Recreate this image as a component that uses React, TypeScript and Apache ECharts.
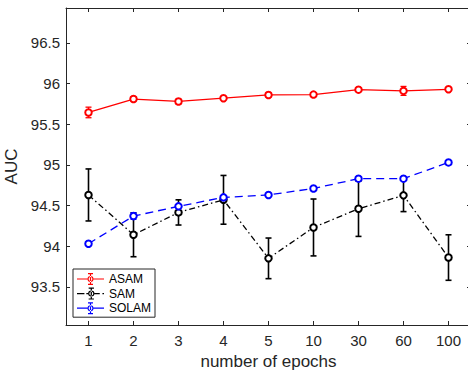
import React, { useEffect, useRef } from "react";
import * as echarts from "echarts";

const categories = ["1", "2", "3", "4", "5", "10", "30", "60", "100"];
const asam = [95.645, 95.81, 95.78, 95.82, 95.86, 95.865, 95.925, 95.91, 95.93];
const asamErr = [0.065, 0.03, 0.03, 0.015, 0.03, 0.02, 0.015, 0.055, 0.015];
const sam = [94.63, 94.14, 94.415, 94.57, 93.85, 94.23, 94.46, 94.625, 93.86];
const samErr = [0.32, 0.27, 0.155, 0.3, 0.25, 0.35, 0.34, 0.2, 0.28];
const solam = [94.03, 94.37, 94.49, 94.6, 94.63, 94.71, 94.83, 94.83, 95.03];
const solamErr = [0.01, 0.04, 0.02, 0.02, 0.01, 0.01, 0.02, 0.02, 0.01];
const yTicks = [93.5, 94, 94.5, 95, 95.5, 96, 96.5];

const FONT = "'Liberation Sans', Arial, Helvetica, sans-serif";
const AX = "#262626";

// legend glyphs (27 x 12 box): line pieces + ring marker + error bar
function rect(x0: number, x1: number, y0: number, y1: number) {
  return `M${x0} ${y0}L${x1} ${y0}L${x1} ${y1}L${x0} ${y1}Z`;
}
const RING =
  "M16.5 6A3 3 0 1 0 10.5 6A3 3 0 1 0 16.5 6Z" +
  "M15.4 6A1.9 1.9 0 1 1 11.6 6A1.9 1.9 0 1 1 15.4 6Z";
const BAR = rect(12.9, 14.1, 0, 12) + rect(11, 16, 0, 1.2) + rect(11, 16, 10.8, 12);
function glyph(segs: number[][]) {
  return "path://" + segs.map(([a, b]) => rect(a, b, 5.4, 6.6)).join("") + RING + BAR;
}
const ICON_ASAM = glyph([[0, 10.5], [16.5, 27]]);
const ICON_SAM = glyph([[0, 7], [8.8, 10.5], [16.5, 21.5], [24, 25.5]]);
const ICON_SOLAM = glyph([[0, 10.5], [16.5, 27]]);

function errRender(color: string, width: number, cap: number) {
  return (params: any, api: any) => {
    const x = api.value(0);
    const lo = api.coord([x, api.value(1)]);
    const hi = api.coord([x, api.value(2)]);
    const cx = lo[0];
    const st = { stroke: color, lineWidth: width };
    return {
      type: "group",
      children: [
        { type: "line", shape: { x1: cx, y1: lo[1], x2: cx, y2: hi[1] }, style: st },
        { type: "line", shape: { x1: cx - cap, y1: lo[1], x2: cx + cap, y2: lo[1] }, style: st },
        { type: "line", shape: { x1: cx - cap, y1: hi[1], x2: cx + cap, y2: hi[1] }, style: st },
      ],
    };
  };
}

function errData(v: number[], e: number[]) {
  return v.map((val, i) => [i, val - e[i], val + e[i]]);
}

export default function App() {
  const ref = useRef<HTMLDivElement>(null);
  useEffect(() => {
    if (!ref.current) return;
    const chart = echarts.init(ref.current, null, { renderer: "svg" });
    const lineSeries = (name: string, data: number[], color: string, type: any) => ({
      name,
      type: "line",
      data,
      symbol: "emptyCircle",
      symbolSize: 6.5,
      itemStyle: { color, borderColor: color, borderWidth: 1.3 },
      lineStyle: { color, width: 1.3, type },
      z: 3,
    });
    const errSeries = (name: string, v: number[], e: number[], color: string, w: number) => ({
      name,
      type: "custom",
      renderItem: errRender(color, w, 3),
      data: errData(v, e),
      encode: { x: 0, y: [1, 2] },
      z: 3,
    });
    const legendItem = (name: string, icon: string, color: string) => ({
      name,
      icon,
      itemStyle: { color, borderWidth: 0, borderColor: color },
    });
    chart.setOption({
      animation: false,
      textStyle: { fontFamily: FONT },
      grid: {
        left: 66,
        top: 8,
        width: 405,
        height: 317,
        containLabel: false,
        outerBoundsMode: "none",
      },
      legend: {
        data: [
          legendItem("ASAM", ICON_ASAM, "#ff0000"),
          legendItem("SAM", ICON_SAM, "#000000"),
          legendItem("SOLAM", ICON_SOLAM, "#0000ff"),
        ],
        orient: "vertical",
        left: 73,
        top: 269,
        padding: [4, 4, 3, 4],
        itemGap: 2.6,
        itemWidth: 27,
        itemHeight: 12,
        symbolKeepAspect: false,
        borderColor: AX,
        borderWidth: 1,
        borderRadius: 0,
        backgroundColor: "#fff",
        textStyle: { fontSize: 12, lineHeight: 12, color: "#000", fontFamily: FONT },
      },
      xAxis: [
        {
          type: "category",
          data: categories,
          position: "bottom",
          boundaryGap: true,
          name: "number of epochs",
          nameLocation: "middle",
          nameGap: 27,
          nameTextStyle: { fontSize: 17, color: AX, fontFamily: FONT },
          axisLine: { show: true, lineStyle: { color: AX, width: 1 } },
          axisTick: { show: true, inside: true, alignWithLabel: true, length: 4, lineStyle: { color: AX } },
          axisLabel: { fontSize: 15, color: AX, margin: 8, fontFamily: FONT },
          splitLine: { show: false },
        },
        {
          type: "category",
          data: categories,
          position: "top",
          boundaryGap: true,
          axisLine: { show: true, lineStyle: { color: AX, width: 1 } },
          axisTick: { show: true, inside: true, alignWithLabel: true, length: 4, lineStyle: { color: AX } },
          axisLabel: { show: false },
          splitLine: { show: false },
        },
      ],
      yAxis: [
        {
          type: "value",
          min: 93.03,
          max: 96.93,
          position: "left",
          name: "AUC",
          nameLocation: "middle",
          nameGap: 36,
          nameTextStyle: { fontSize: 17, color: AX, fontFamily: FONT },
          axisLine: { show: true, lineStyle: { color: AX, width: 1 } },
          axisTick: { show: true, inside: true, length: 4, customValues: yTicks, lineStyle: { color: AX } },
          axisLabel: { fontSize: 15, color: AX, margin: 6, customValues: yTicks, fontFamily: FONT },
          splitLine: { show: false },
        },
        {
          type: "value",
          min: 93.03,
          max: 96.93,
          position: "right",
          axisLine: { show: true, lineStyle: { color: AX, width: 1 } },
          axisTick: { show: true, inside: true, length: 4, customValues: yTicks, lineStyle: { color: AX } },
          axisLabel: { show: false, customValues: yTicks },
          splitLine: { show: false },
        },
      ],
      series: [
        lineSeries("ASAM", asam, "#ff0000", "solid"),
        errSeries("ASAM err", asam, asamErr, "#ff0000", 1.3),
        lineSeries("SAM", sam, "#000000", [6, 3, 1.5, 3]),
        errSeries("SAM err", sam, samErr, "#000000", 1.6),
        lineSeries("SOLAM", solam, "#0000ff", [8, 5]),
        errSeries("SOLAM err", solam, solamErr, "#0000ff", 1.3),
      ],
    });
    return () => chart.dispose();
  }, []);
  return (
    <div
      ref={ref}
      style={{ position: "fixed", left: 0, top: 0, width: 468, height: 372, background: "#fff" }}
    />
  );
}
